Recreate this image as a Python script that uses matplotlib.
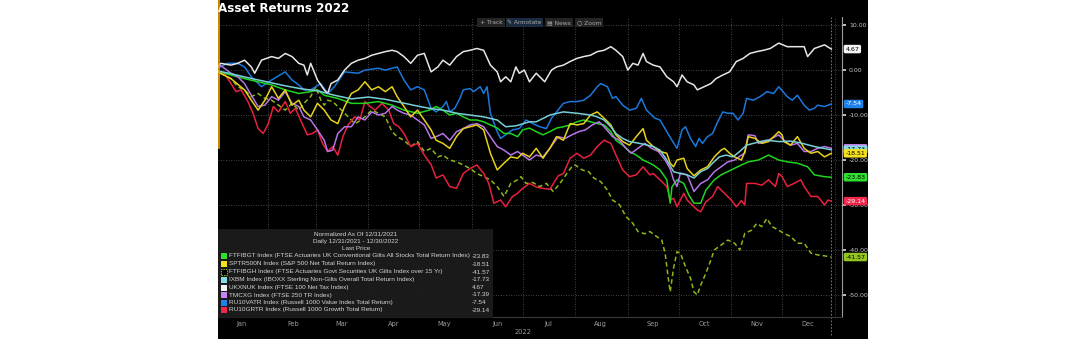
import matplotlib
matplotlib.use("Agg")
import matplotlib.pyplot as plt
import matplotlib.dates as mdates
import matplotlib.transforms as mtransforms
from matplotlib.patches import Rectangle
from matplotlib.lines import Line2D
from matplotlib.ticker import NullFormatter, FixedLocator
import pandas as pd

# ---------------- data (days since 12/31/2021, normalized return %) ----------------
ftfibgt_days = [0,10,18,26,34,42,50,57,61,65,73,81,89,97,105,112,120,127,131,135,139,143,147,151,155,159,163,167,171,175,
                179,182,186,190,194,198,202,206,210,214,218,222,226,230,234,237,241,245,249,253,257,259,263,267,269,270,273,277,280,283,
                287,290,295,299,305,311,315,321,327,333,338,344,350,354,360,364]
ftfibgt_vals = [0,-1.1,-1.9,-2.6,-3.3,-4.4,-5.2,-4.8,-4.4,-5.6,-6.3,-7.4,-7.4,-7.0,-7.8,-8.9,-9.6,-8.9,-8.1,-8.9,
                -10.0,-9.6,-10.4,-11.1,-11.1,-11.5,-12.2,-12.9,-14.1,-14.1,-14.8,-13.3,-12.9,-13.7,-14.4,-13.7,-12.9,-12.6,-12.2,-11.5,
                -11.1,-11.5,-11.9,-12.2,-13.7,-15.6,-16.7,-18.1,-18.9,-20.0,-20.7,-21.1,-22.2,-24.4,-29.6,-26.0,-24.4,-25.2,-27.8,-29.6,
                -29.6,-26.7,-24.4,-23.3,-22.2,-21.1,-20.4,-20.0,-18.9,-20.0,-20.4,-20.7,-21.5,-23.3,-23.7,-23.83]

sptr_days = [0,10,18,22,26,30,34,38,42,46,50,53,57,61,65,69,73,77,81,85,89,93,97,101,105,108,112,116,120,124,
             128,131,135,139,143,147,151,155,159,163,167,171,175,179,182,186,190,194,198,202,206,210,214,218,222,226,230,234,237,241,
             245,249,253,255,259,263,267,269,271,273,277,279,283,287,291,295,299,301,304,307,311,313,315,319,323,327,333,335,336,340,
             344,348,352,356,360,364]
sptr_vals = [0,-1.9,-4.4,-6.7,-8.9,-6.7,-3.7,-6.3,-4.4,-7.8,-6.7,-8.9,-10.4,-7.4,-8.9,-11.1,-11.9,-8.1,-5.2,-4.4,
             -2.6,-4.4,-3.7,-4.8,-3.7,-5.9,-8.1,-10.4,-8.9,-11.1,-13.3,-15.6,-16.3,-17.4,-14.8,-13.0,-12.6,-12.2,-13.3,-18.5,
             -22.2,-20.7,-19.3,-19.6,-18.5,-19.3,-17.4,-19.6,-17.4,-14.8,-15.6,-11.9,-12.2,-11.9,-10.0,-9.3,-10.7,-12.2,-14.4,-15.9,
             -16.7,-14.8,-13.0,-15.6,-17.0,-18.1,-18.5,-20.7,-21.5,-20.0,-19.6,-21.9,-23.5,-22.2,-21.5,-19.3,-17.8,-17.4,-18.5,-19.3,
             -20.0,-18.1,-14.8,-15.2,-16.3,-15.9,-13.7,-14.4,-15.9,-16.7,-14.8,-17.4,-18.5,-18.1,-19.3,-18.51]

ftfibgh_days = [0,4,10,14,18,22,26,30,34,38,42,46,50,53,57,60,63,65,67,70,73,77,81,83,85,89,93,97,101,105,
                108,112,116,120,124,128,132,135,139,143,147,151,155,159,163,167,171,175,179,181,184,188,192,196,200,204,208,211,213,217,
                221,224,228,232,235,239,243,247,250,254,257,261,264,266,268,269,271,273,275,278,281,283,285,287,290,293,295,299,303,307,
                310,313,317,320,323,326,329,333,336,340,344,348,352,356,360,364]
ftfibgh_vals = [0,-0.7,-1.9,-3.7,-4.4,-5.9,-5.2,-6.3,-6.7,-7.8,-8.9,-7.4,-8.9,-7.4,-5.9,-3.7,-6.7,-7.8,-6.7,-7.0,
                -8.1,-9.6,-11.1,-11.9,-11.5,-10.4,-8.9,-9.6,-10.4,-13.7,-14.8,-15.6,-17.0,-15.9,-18.1,-17.4,-19.3,-18.9,-20.0,-20.4,
                -21.1,-21.9,-23.0,-23.7,-24.4,-25.9,-28.1,-25.2,-24.4,-23.7,-25.2,-25.0,-25.9,-25.2,-27.0,-25.2,-23.0,-21.5,-21.1,-22.2,
                -22.6,-24.0,-24.8,-26.7,-28.9,-29.9,-32.6,-34.1,-35.9,-36.4,-35.9,-37.0,-37.8,-40.7,-46.7,-49.3,-44.0,-40.4,-40.7,-43.7,
                -46.3,-49.3,-50.0,-47.8,-45.2,-42.2,-40.0,-38.9,-37.8,-38.5,-40.0,-36.3,-35.6,-34.1,-34.8,-33.0,-34.8,-35.6,-36.3,-37.0,
                -38.5,-38.5,-40.7,-41.1,-41.3,-41.57]

ixbm_days = [0,10,20,31,42,52,61,71,81,91,101,110,120,127,135,143,151,159,167,172,178,186,190,198,206,214,222,226,230,234,
             237,241,245,251,259,263,267,271,275,279,283,287,291,294,298,302,306,310,314,318,322,326,333,340,346,354,364]
ixbm_vals = [0,-0.8,-1.7,-2.6,-3.5,-4.2,-4.6,-5.6,-6.4,-6.0,-6.5,-7.2,-8.0,-8.5,-8.9,-9.6,-10.0,-10.4,-11.1,-12.6,
             -12.4,-11.5,-11.5,-10.0,-9.3,-9.6,-10.0,-10.4,-11.1,-12.6,-14.1,-15.2,-15.9,-16.3,-17.0,-17.8,-20.0,-22.6,-23.0,-23.3,
             -24.0,-22.6,-21.9,-20.7,-19.3,-18.9,-19.3,-18.1,-16.7,-16.3,-15.9,-15.6,-15.9,-15.8,-16.2,-17.0,-17.73]

ukx_days = [0,4,10,14,18,22,24,28,34,38,42,46,50,53,55,57,61,65,67,69,73,77,81,85,89,93,97,101,105,108,
            112,116,120,124,128,132,135,139,143,147,151,155,159,163,167,169,172,175,178,180,183,186,190,195,199,202,206,210,214,218,
            222,226,230,234,237,241,244,247,250,253,255,259,263,267,271,273,276,279,283,285,289,293,296,300,304,308,312,316,320,324,
            328,333,338,344,348,350,354,360,364]
ukx_vals = [0,1.5,1.1,1.5,2.2,0.7,-0.7,2.2,3.0,2.6,3.7,3.0,1.5,1.1,-1.1,1.5,-2.2,-4.4,-5.2,-3.0,
            -2.2,0.0,1.5,2.2,2.6,3.3,3.7,4.1,4.4,4.1,3.0,1.5,3.3,3.7,-0.4,0.7,2.2,1.1,3.0,4.1,
            4.4,4.8,4.4,1.1,-0.4,-2.6,-1.5,-2.6,0.7,-0.7,0.0,-2.6,-0.7,-2.6,0.0,0.7,1.1,1.9,2.6,3.0,
            3.3,4.1,4.4,5.2,4.4,3.0,0.0,1.5,1.1,3.7,1.9,1.1,0.7,-1.5,-2.6,-3.7,-1.1,-2.6,-3.3,-4.4,
            -3.7,-3.0,-1.9,-1.1,-0.4,1.9,2.6,3.7,4.1,4.4,4.8,6.0,5.2,5.2,5.2,3.0,4.8,5.6,4.67]

tmcxg_days = [0,4,10,14,18,22,26,30,34,38,42,46,50,53,57,61,65,67,70,73,77,81,85,89,93,97,101,105,108,112,
              116,120,124,128,131,135,139,143,147,151,155,159,163,167,171,175,179,182,186,190,194,198,203,207,211,215,219,223,227,230,
              235,239,243,246,250,254,258,262,266,269,271,273,275,279,283,287,291,295,299,303,307,311,313,315,319,321,325,329,333,336,
              340,344,348,352,356,360,364]
tmcxg_vals = [0,1.0,-0.7,-1.5,-3.0,-5.6,-8.1,-7.8,-5.9,-6.7,-4.8,-7.4,-8.1,-10.4,-11.1,-13.3,-15.6,-18.1,-17.8,-14.1,
              -12.6,-12.6,-10.4,-11.1,-9.3,-10.0,-9.6,-8.1,-8.9,-9.6,-10.0,-11.1,-12.2,-15.2,-14.8,-14.1,-15.6,-13.7,-13.0,-12.2,
              -11.9,-12.6,-14.8,-17.0,-17.8,-18.9,-18.1,-18.9,-20.0,-18.9,-19.3,-17.4,-14.8,-15.2,-14.4,-13.7,-13.3,-12.2,-11.5,-12.6,
              -14.8,-15.6,-17.4,-18.5,-17.4,-16.3,-17.4,-18.1,-20.0,-22.0,-24.4,-25.9,-22.9,-23.3,-27.0,-25.2,-24.4,-22.6,-21.5,-20.4,
              -20.0,-18.9,-18.5,-14.4,-14.6,-16.3,-15.9,-15.2,-14.4,-15.6,-16.7,-16.3,-18.1,-18.1,-17.4,-17.0,-17.39]

ru10v_days = [0,8,14,18,22,28,34,42,46,50,53,57,63,67,71,75,77,85,89,97,101,108,112,116,120,124,128,131,135,137,
              139,142,145,147,151,153,157,159,161,163,167,169,173,176,180,184,188,192,196,199,202,206,210,214,218,222,226,228,232,235,
              237,241,245,249,252,255,260,263,267,270,273,276,278,281,284,286,288,291,294,297,300,303,306,309,312,314,318,322,326,330,
              333,338,341,344,348,351,354,356,360,364]
ru10v_vals = [0,1.5,1.5,0.7,-1.5,-3.7,-2.2,-0.4,-2.2,-3.3,-4.4,-4.4,-3.0,-5.2,-3.7,-1.5,-0.4,-0.7,0.0,0.4,
              0.0,0.7,-2.2,-4.4,-3.7,-4.4,-8.5,-9.3,-8.1,-7.0,-9.3,-8.5,-6.3,-4.4,-4.1,-4.8,-3.7,-5.2,-3.7,-9.6,
              -13.7,-15.2,-14.1,-13.3,-13.0,-11.1,-11.9,-12.6,-13.0,-10.7,-9.3,-7.4,-7.0,-7.0,-6.7,-5.6,-3.7,-3.0,-3.7,-6.3,
              -5.9,-7.8,-8.9,-8.5,-6.3,-8.9,-10.7,-11.1,-13.7,-15.6,-17.4,-13.3,-12.6,-15.2,-17.0,-15.2,-16.3,-14.8,-14.1,-11.5,
              -9.3,-9.6,-9.6,-11.1,-9.6,-6.3,-6.7,-5.9,-4.8,-5.2,-3.7,-5.9,-6.7,-5.6,-7.8,-8.9,-8.5,-7.8,-8.1,-7.54]

ru10g_days = [0,6,10,13,16,20,23,26,29,32,35,38,42,45,48,51,55,58,61,64,67,70,73,76,79,83,86,89,92,95,
              99,103,106,109,112,116,120,124,128,131,135,139,143,147,151,155,159,162,165,169,172,176,179,182,186,190,194,198,203,206,
              210,214,218,222,226,230,234,237,241,245,249,253,257,259,263,267,269,271,273,275,277,279,283,285,287,290,294,297,301,305,
              308,311,313,314,319,323,327,331,333,335,338,342,346,348,352,356,360,362,364]
ru10g_vals = [0,-0.7,-3.0,-4.8,-4.4,-7.0,-9.6,-13.0,-14.1,-11.9,-8.1,-9.3,-7.0,-9.6,-8.5,-11.1,-14.4,-14.1,-13.3,-16.3,
              -18.1,-17.0,-18.9,-14.8,-12.2,-10.4,-11.1,-7.0,-8.1,-8.9,-7.4,-8.9,-11.9,-12.6,-14.1,-17.0,-16.3,-18.9,-21.0,-24.0,
              -23.3,-25.9,-26.3,-23.0,-21.9,-21.1,-23.0,-25.2,-29.6,-28.9,-30.4,-28.1,-27.4,-26.3,-25.2,-26.0,-26.3,-26.5,-23.5,-23.0,
              -19.6,-18.5,-19.6,-18.9,-17.0,-15.6,-16.3,-18.9,-22.2,-23.7,-23.3,-21.5,-23.3,-23.0,-24.4,-25.9,-28.9,-28.5,-30.4,-28.9,
              -27.4,-28.9,-30.4,-31.1,-31.5,-29.3,-28.1,-25.9,-27.4,-28.9,-30.4,-29.0,-30.0,-25.2,-25.2,-25.6,-24.4,-25.9,-23.0,-23.7,
              -25.9,-25.2,-24.4,-25.9,-28.1,-28.1,-30.0,-28.9,-29.14]

tickers = ["FTFIBGT", "SPTR500N", "FTFIBGH", "IXBM", "UKXNUK", "TMCXG", "RU10VATR", "RU10GRTR"]
descriptions = [
    "FTFIBGT Index (FTSE Actuaries UK Conventional Gilts All Stocks Total Return Index)",
    "SPTR500N Index (S&P 500 Net Total Return Index)",
    "FTFIBGH Index (FTSE Actuaries Govt Securities UK Gilts Index over 15 Yr)",
    "IXBM Index (IBOXX Sterling Non-Gilts Overall Total Return Index)",
    "UKXNUK Index (FTSE 100 Net Tax Index)",
    "TMCXG Index (FTSE 250 TR Index)",
    "RU10VATR Index (Russell 1000 Value Index Total Return)",
    "RU10GRTR Index (Russell 1000 Growth Total Return)",
]
last_prices = [-23.83, -18.51, -41.57, -17.73, 4.67, -17.39, -7.54, -29.14]
y_ticks = [10, 0, -10, -20, -30, -40, -50]

# ---------------- styling ----------------
colors = {
    "FTFIBGT": "#1fd41f", "SPTR500N": "#e6d21a", "FTFIBGH": "#8cb81a", "IXBM": "#78cfd6",
    "UKXNUK": "#e6e6e6", "TMCXG": "#b574e6", "RU10VATR": "#1a78dc", "RU10GRTR": "#e8203e",
}
label_bg = {
    "FTFIBGT": "#2ee02e", "SPTR500N": "#f2e21e", "FTFIBGH": "#94c41e", "IXBM": "#86dce2",
    "UKXNUK": "#f4f4f4", "TMCXG": "#c486f2", "RU10VATR": "#1e82ea", "RU10GRTR": "#f2284a",
}
label_fg = {
    "FTFIBGT": "black", "SPTR500N": "black", "FTFIBGH": "black", "IXBM": "black",
    "UKXNUK": "black", "TMCXG": "black", "RU10VATR": "white", "RU10GRTR": "white",
}

W, H = 1086, 339
fig = plt.figure(figsize=(W / 100, H / 100), dpi=100)
fig.patch.set_facecolor("white")


def fx(px):
    return px / W


def fy(py):
    return 1 - py / H


# black terminal panel
fig.add_artist(Rectangle((fx(218), 0), fx(868) - fx(218), 1, transform=fig.transFigure,
                         facecolor="black", edgecolor="none", zorder=-5))

ax = fig.add_axes([fx(218), fy(317), fx(842) - fx(218), fy(17) - fy(317)])
ax.set_facecolor("black")

base = pd.Timestamp("2021-12-31")


def to_dates(days):
    return base + pd.to_timedelta(days, unit="D")


series = {
    "FTFIBGH": (ftfibgh_days, ftfibgh_vals),
    "RU10GRTR": (ru10g_days, ru10g_vals),
    "RU10VATR": (ru10v_days, ru10v_vals),
    "UKXNUK": (ukx_days, ukx_vals),
    "FTFIBGT": (ftfibgt_days, ftfibgt_vals),
    "TMCXG": (tmcxg_days, tmcxg_vals),
    "SPTR500N": (sptr_days, sptr_vals),
    "IXBM": (ixbm_days, ixbm_vals),
}
for tk, (d, v) in series.items():
    ls = (0, (3, 2)) if tk == "FTFIBGH" else "-"
    ax.plot(to_dates(d), v, color=colors[tk], lw=1.1, ls=ls, solid_joinstyle="round", zorder=3)

ax.set_xlim(base + pd.Timedelta(days=2.36), base + pd.Timedelta(days=370.3))
ax.set_ylim(-54.9, 11.8)

# grid
ax.xaxis.set_major_locator(mdates.MonthLocator())
ax.xaxis.set_major_formatter(NullFormatter())
ax.xaxis.set_minor_locator(mdates.MonthLocator(bymonthday=16))
ax.xaxis.set_minor_formatter(mdates.DateFormatter("%b"))
ax.tick_params(axis="x", which="major", length=0)
ax.tick_params(axis="x", which="minor", length=0, labelsize=4.8, labelcolor="#9a9a9a", pad=3)
ax.grid(True, which="major", axis="both", color="#5c5c5c", ls=(0, (1, 2)), lw=0.6, zorder=1)
ax.axvline(base + pd.Timedelta(days=364), ymin=-0.06, ymax=1, color="#8a8a8a", ls=(0, (2, 2)),
           lw=0.6, clip_on=False, zorder=1)

ax.yaxis.tick_right()
ax.yaxis.set_major_locator(FixedLocator(y_ticks))
ax.set_yticklabels([f"{t:.2f}" for t in y_ticks])
ax.tick_params(axis="y", which="major", length=3, width=1.2, color="#dddddd", pad=2,
               labelsize=4.5, labelcolor="#c8c8c8")
for s in ["left", "top"]:
    ax.spines[s].set_visible(False)
ax.spines["right"].set_color("#9a9a9a")
ax.spines["right"].set_linewidth(0.8)
ax.spines["bottom"].set_color("#3a3a3a")

fig.text(fx(523), fy(332), "2022", fontsize=4.8, color="#9a9a9a", ha="center", va="center")

# right-hand last value labels
trans = mtransforms.blended_transform_factory(ax.transAxes, ax.transData)
order = ["UKXNUK", "RU10VATR", "TMCXG", "IXBM", "SPTR500N", "FTFIBGT", "RU10GRTR", "FTFIBGH"]
for k, tk in enumerate(order):
    val = last_prices[tickers.index(tk)]
    ax.text(1.0055, val, f"{val:.2f}", transform=trans, ha="left", va="center", fontsize=4.5,
            color=label_fg[tk], clip_on=False, zorder=10 + k,
            bbox=dict(boxstyle="round,pad=0.28,rounding_size=0.25", fc=label_bg[tk], ec="none"))

# title
fig.text(fx(218), fy(8.5), "Asset Returns 2022", fontsize=8.6, fontweight="bold", color="white",
         ha="left", va="center", zorder=6)
fig.add_artist(Line2D([fx(218.6), fx(218.6)], [fy(0), fy(148)], color="#f0a000", lw=1.2,
                      transform=fig.transFigure, zorder=6))

# toolbar
buttons = [("+ Track", 477, 505, "#242424"), ("\u270e Annotate", 506, 543, "#1b2b3f"),
           ("\u25a4 News", 545, 573, "#242424"), ("\u25cb Zoom", 575, 603, "#242424")]
for txt, x0, x1, bg in buttons:
    fig.add_artist(Rectangle((fx(x0), fy(27)), fx(x1) - fx(x0), fy(18) - fy(27), transform=fig.transFigure,
                             facecolor=bg, edgecolor="none", zorder=6))
    fig.text(fx((x0 + x1) / 2), fy(22.5), txt, fontsize=4.3, color="#a8a8a8", ha="center", va="center", zorder=7)

# legend box
fig.add_artist(Rectangle((fx(218), fy(318)), fx(493) - fx(218), fy(229) - fy(318), transform=fig.transFigure,
                         facecolor="#1c1c1c", edgecolor="none", alpha=0.95, zorder=6))
lfont = dict(family=["Liberation Sans", "DejaVu Sans"], fontsize=4.55, color="#d4d4d4", zorder=7)
fig.text(fx(356), fy(235), "Normalized As Of 12/31/2021", ha="center", va="center", **lfont)
fig.text(fx(356), fy(242), "Daily 12/31/2021 - 12/30/2022", ha="center", va="center", **lfont)
fig.text(fx(356), fy(249), "Last Price", ha="center", va="center", **lfont)
row_y = [256, 264, 272, 279.5, 287.5, 295, 302.5, 310]
for tk, desc, val, yy in zip(tickers, descriptions, last_prices, row_y):
    if tk == "FTFIBGH":
        sq = Rectangle((fx(221), fy(yy + 3)), fx(6), fy(0) - fy(6), transform=fig.transFigure,
                       facecolor="black", edgecolor=colors[tk], lw=0.7, ls=(0, (1.5, 1)), zorder=7)
    else:
        sq = Rectangle((fx(221), fy(yy + 3)), fx(6), fy(0) - fy(6), transform=fig.transFigure,
                       facecolor=label_bg[tk], edgecolor="none", zorder=7)
    fig.add_artist(sq)
    fig.text(fx(229), fy(yy), desc, ha="left", va="center", **lfont)
    fig.text(fx(472), fy(yy), f"{val:.2f}", ha="left", va="center", **lfont)

fig.savefig("out.png", dpi=100, facecolor="white")
